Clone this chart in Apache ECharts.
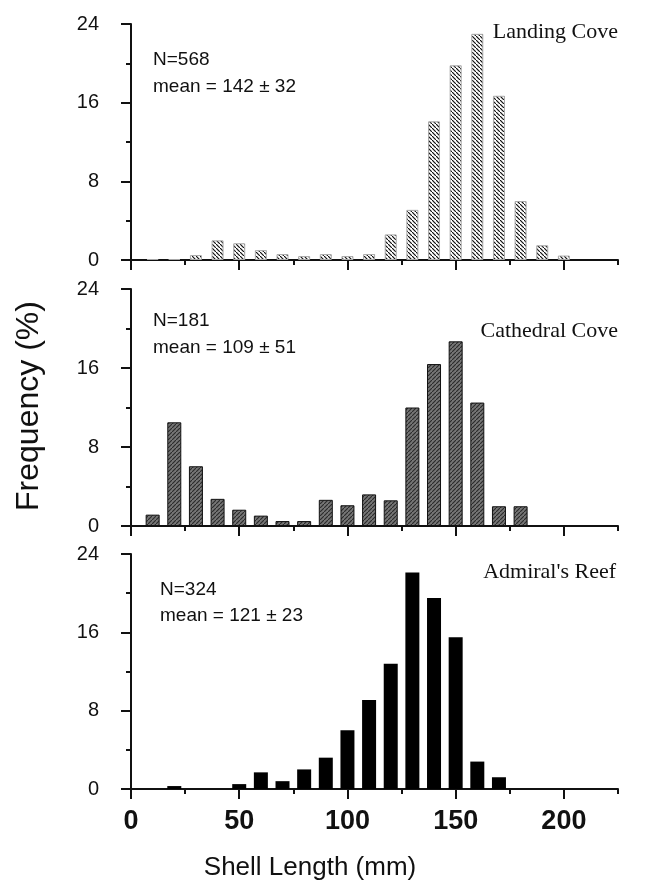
<!DOCTYPE html>
<html><head><meta charset="utf-8">
<script src="https://cdn.jsdelivr.net/npm/echarts@6/dist/echarts.min.js"></script>
<style>html,body{margin:0;padding:0;background:#fff}#c{width:649px;height:888px}</style>
</head><body><div id="c"></div>
<script>
// ---- data ----
const binCenters    = [10,20,30,40,50,60,70,80,90,100,110,120,130,140,150,160,170,180,190,200];
const landingCove   = [0.1,0.1,0.5,2.0,1.7,1.0,0.6,0.4,0.6,0.4,0.6,2.6,5.1,14.1,19.8,23.0,16.7,6.0,1.5,0.45];
const cathedralCove = [1.15,10.5,6.05,2.75,1.65,1.05,0.5,0.5,2.65,2.1,3.2,2.6,12.0,16.4,18.7,12.5,2.0,2.0,0,0];
const admiralsReef  = [0,0.3,0,0,0.5,1.7,0.8,2.0,3.2,6.0,9.1,12.8,22.1,19.5,15.5,2.8,1.2,0,0,0];
const siteNames   = ["Landing Cove","Cathedral Cove","Admiral's Reef"];
const sampleSizes = [568,181,324];
const meanLengths = [142,109,121];
const sdLengths   = [32,51,23];
const xMajorTicks = [0,50,100,150,200];
const xMinorTicks = [25,75,125,175,225];
const yTickLabels = [0,8,16,24];
const xTitle = "Shell Length (mm)";
const yTitle = "Frequency (%)";

function hatch(bg, fg, forward, lw){
  const c=document.createElement('canvas'); c.width=c.height=4;
  const g=c.getContext('2d'); g.fillStyle=bg; g.fillRect(0,0,4,4);
  g.strokeStyle=fg; g.lineWidth=lw; g.beginPath();
  if(forward){ g.moveTo(-1,5); g.lineTo(5,-1); } else { g.moveTo(-1,-1); g.lineTo(5,5); }
  g.stroke(); return c;
}

const seriesData=[landingCove,cathedralCove,admiralsReef];
const gridsPos=[{top:24,height:236},{top:289,height:237},{top:554,height:235}];
const barWidths=[12,14,14];
const styles=[
  {color:{image:hatch('#ffffff','#111111',false,1.2),repeat:'repeat'},borderColor:'#a8a8a8',borderWidth:1},
  {color:{image:hatch('#767676','#2a2a2a',true,1.1),repeat:'repeat'},borderColor:'#111',borderWidth:1},
  {color:'#000'}
];
const statPos=[{x:153,y1:60,y2:87},{x:153,y1:321,y2:348},{x:160,y1:590,y2:616}];
const titlePos=[{x:618,y:32},{x:618,y:331},{x:616,y:572}];

const grid=[],xAxis=[],yAxis=[],series=[],graphic=[];
const axisCol='#111';
for(let i=0;i<3;i++){
  grid.push({left:131,right:31,top:gridsPos[i].top,height:gridsPos[i].height});
  xAxis.push({type:'value',gridIndex:i,min:0,max:225,position:'bottom',
    axisLine:{show:true,onZero:false,lineStyle:{color:axisCol,width:2}},
    axisTick:{show:true,customValues:xMajorTicks,length:10,lineStyle:{color:axisCol,width:2}},
    axisLabel:{show:i===2,customValues:xMajorTicks,margin:19,fontFamily:'"Liberation Sans Narrow","Liberation Sans",Arial,sans-serif',fontWeight:'bold',fontSize:27,color:'#111'},
    splitLine:{show:false}});
  xAxis.push({type:'value',gridIndex:i,min:0,max:225,position:'bottom',
    axisLine:{show:false},
    axisTick:{show:true,customValues:xMinorTicks,length:5,lineStyle:{color:axisCol,width:2}},
    axisLabel:{show:false},splitLine:{show:false}});
  yAxis.push({type:'value',gridIndex:i,min:0,max:24,interval:8,
    axisLine:{show:true,onZero:false,lineStyle:{color:axisCol,width:2}},
    axisTick:{show:true,length:10,lineStyle:{color:axisCol,width:2}},
    minorTick:{show:true,splitNumber:2,length:5,lineStyle:{color:axisCol,width:2}},
    axisLabel:{margin:32,fontFamily:'"Liberation Sans",Arial,sans-serif',fontSize:20,color:'#111',
      formatter:v=>yTickLabels.includes(v)?String(v):''},
    splitLine:{show:false}});
  series.push({type:'bar',xAxisIndex:2*i,yAxisIndex:i,barWidth:barWidths[i],
    data:binCenters.map((x,j)=>[x,seriesData[i][j]]).filter(d=>d[1]>0),
    itemStyle:styles[i],silent:true,animation:false});
  graphic.push({type:'text',x:statPos[i].x,y:statPos[i].y1,style:{text:'N='+sampleSizes[i],font:'19px "Liberation Sans",Arial,sans-serif',fill:'#111',verticalAlign:'middle'}});
  graphic.push({type:'text',x:statPos[i].x,y:statPos[i].y2,style:{text:'mean = '+meanLengths[i]+' \u00b1 '+sdLengths[i],font:'19px "Liberation Sans",Arial,sans-serif',fill:'#111',verticalAlign:'middle'}});
  graphic.push({type:'text',x:titlePos[i].x,y:titlePos[i].y,style:{text:siteNames[i],font:'22px "Liberation Serif","Times New Roman",serif',fill:'#111',align:'right',verticalAlign:'middle'}});
}
graphic.push({type:'text',x:310,y:868,style:{text:xTitle,font:'26px "Liberation Sans",Arial,sans-serif',fill:'#111',align:'center',verticalAlign:'middle'}});
graphic.push({type:'text',x:29,y:406,rotation:Math.PI/2,style:{text:yTitle,font:'32px "Liberation Sans",Arial,sans-serif',fill:'#111',align:'center',verticalAlign:'middle'}});

const chart=echarts.init(document.getElementById('c'),null,{renderer:'canvas'});
chart.setOption({animation:false,backgroundColor:'#fff',grid,xAxis,yAxis,series,graphic});
</script></body></html>
